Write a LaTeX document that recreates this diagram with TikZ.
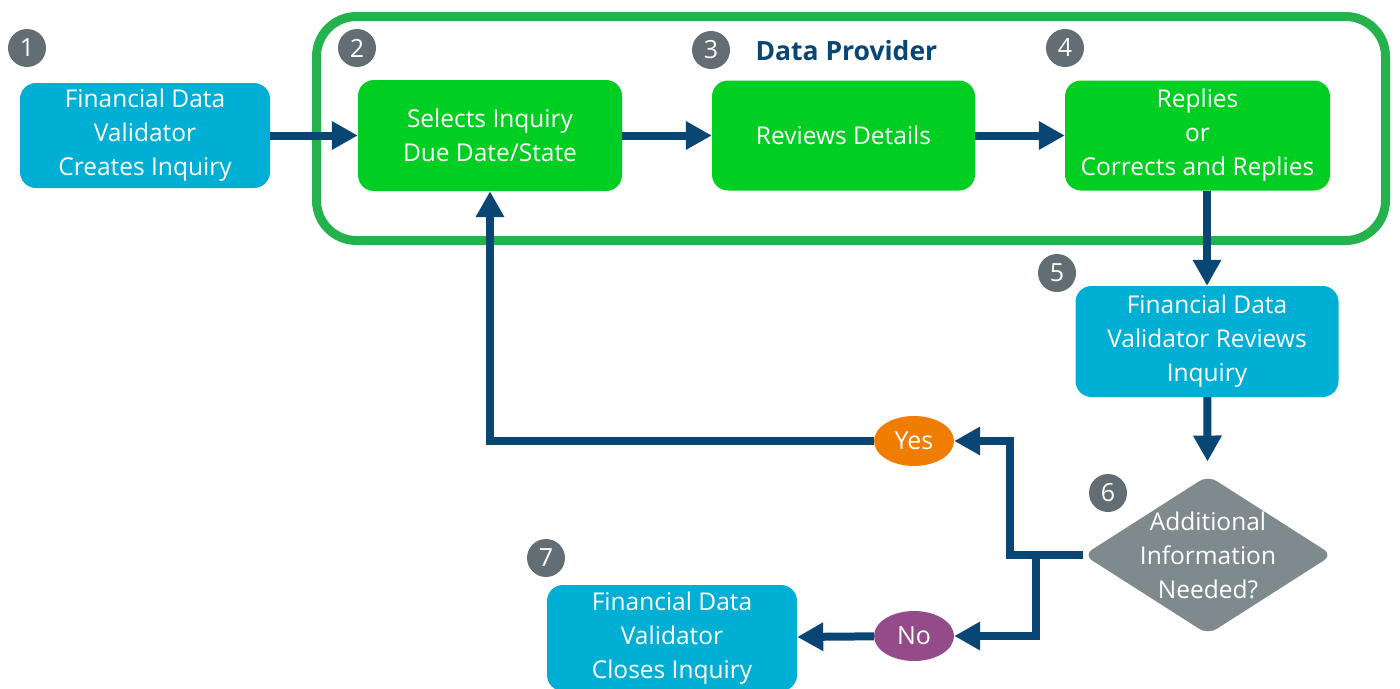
\documentclass[tikz,border=0pt]{standalone}
\usepackage{fontspec}
\setmainfont{Open Sans}
\usepackage{xcolor}
\usepackage{tikz}
\usetikzlibrary{arrows.meta, shapes.geometric, positioning, fit, calc}

\definecolor{fdvcyan}{RGB}{0,175,211}
\definecolor{dpgreen}{RGB}{0,206,34}
\definecolor{dpframe}{RGB}{36,178,76}
\definecolor{badgegray}{RGB}{99,110,116}
\definecolor{checkgray}{RGB}{127,138,143}
\definecolor{flowblue}{RGB}{10,70,115}
\definecolor{yesorange}{RGB}{240,125,0}
\definecolor{nopurple}{RGB}{148,75,138}

\begin{document}
\begin{tikzpicture}[
                x=1pt, y=-1pt,
                box/.style={rounded corners=16pt, inner sep=0pt, text=white, align=center,
                    font=\fontsize{24.5}{34}\selectfont},
                validator/.style={box, fill=fdvcyan},
                provider/.style={box, fill=dpgreen},
                badge/.style={circle, fill=badgegray, text=white, minimum size=38pt,
                    inner sep=0pt, font=\fontsize{25}{25}\selectfont},
                choice/.style={ellipse, minimum width=80pt, minimum height=50pt, inner sep=0pt,
                    text=white, font=\fontsize{25}{25}\selectfont},
                flow/.style={draw=flowblue, line width=8pt, -{Triangle[length=26pt,width=27pt]}}
            ]
                \useasboundingbox (0,0) rectangle (1400,688);

                % Data provider frame
                \node[draw=dpframe, line width=9pt, rounded corners=40pt,
                    minimum width=1069pt, minimum height=224pt] (dp) at (851,128.5) {};
                \node[anchor=west, text=flowblue, font=\bfseries\fontsize{26.5}{26.5}\selectfont]
                    (dptitle) at (752,51) {Data Provider};

                % Nodes
                \node[validator, minimum width=250pt, minimum height=105pt] (create) at (145,135.5)
                    {Financial Data\\Validator\\Creates Inquiry};
                \node[provider, minimum width=264pt, minimum height=111pt] (select) at (490,135.5)
                    {Selects Inquiry\\Due Date/State};
                \node[provider, minimum width=263pt, minimum height=110pt] (review) at (843.5,135.5)
                    {Reviews Details};
                \node[provider, minimum width=265pt, minimum height=110pt] (reply) at (1197.5,135.5)
                    {Replies\\or\\Corrects and Replies};
                \node[validator, minimum width=263pt, minimum height=111pt] (fdvreview) at (1207,341.5)
                    {Financial Data\\Validator Reviews\\Inquiry};
                \node[diamond, fill=checkgray, rounded corners=10pt, inner sep=0pt, aspect=1.57,
                    minimum width=249pt, minimum height=159pt] (check) at (1208,555) {};
                \node[text=white, align=center, font=\fontsize{24.5}{34}\selectfont]
                    (checktext) at (check.center) {Additional\\Information\\Needed?};
                \node[choice, fill=yesorange] (yes) at (914,441) {Yes};
                \node[choice, fill=nopurple] (no) at (914,636) {No};
                \node[validator, minimum width=250pt, minimum height=106pt] (close) at (672,638)
                    {Financial Data\\Validator\\Closes Inquiry};

                % Badges
                \node[badge] (n1) at (27,48) {1};
                \node[badge] (n2) at (357,48) {2};
                \node[badge] (n3) at (711,50) {3};
                \node[badge] (n4) at (1065,48) {4};
                \node[badge] (n5) at (1057,273) {5};
                \node[badge] (n6) at (1108,493) {6};
                \node[badge] (n7) at (546,558) {7};

                % Edges
                \coordinate (yesturn) at (1010,441);
                \coordinate (split) at (1036,555);
                \draw[flow] (create) -- (select);
                \draw[flow] (select) -- (review);
                \draw[flow] (review) -- (reply);
                \draw[flow] (reply.south -| fdvreview.north) -- (fdvreview.north);
                \draw[flow, shorten >=14pt] (fdvreview) -- (check);
                \draw[flow] (check.west) -| (yesturn) -- (yes.east);
                \draw[flow] (yes) -| (select);
                \draw[flow] (split) |- (no);
                \draw[flow] (no) -- (close);
            \end{tikzpicture}
\end{document}
